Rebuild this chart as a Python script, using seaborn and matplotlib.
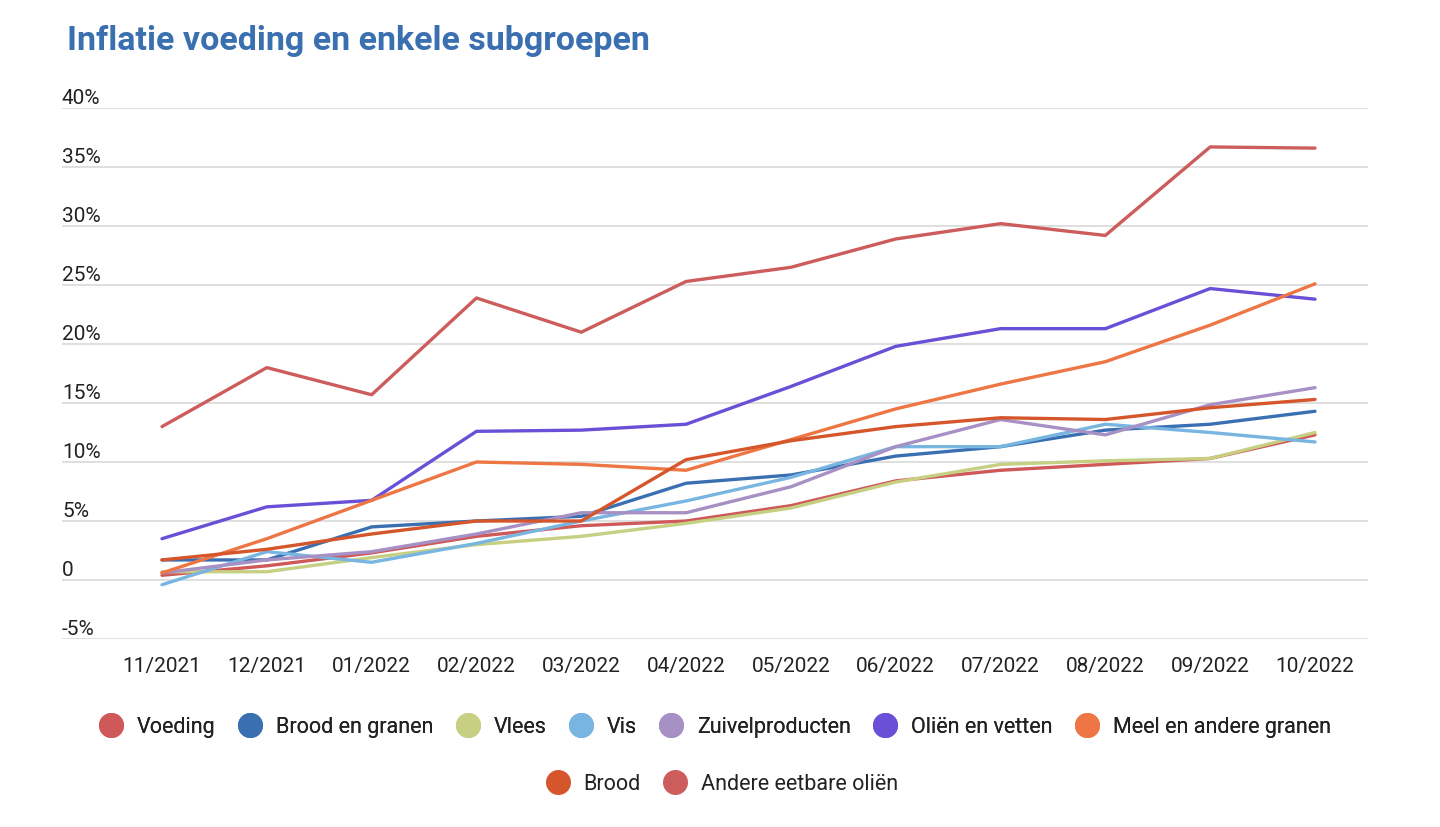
import matplotlib
matplotlib.use("Agg")
import matplotlib.pyplot as plt
from matplotlib.lines import Line2D
import seaborn as sns
import pandas as pd

months = ["11/2021", "12/2021", "01/2022", "02/2022", "03/2022", "04/2022",
          "05/2022", "06/2022", "07/2022", "08/2022", "09/2022", "10/2022"]

voeding = [0.4, 1.2, 2.3, 3.7, 4.6, 5.0, 6.3, 8.4, 9.3, 9.8, 10.3, 12.3]
brood_en_granen = [1.7, 1.7, 4.5, 5.0, 5.4, 8.2, 8.9, 10.5, 11.3, 12.7, 13.2, 14.3]
vlees = [0.7, 0.7, 1.9, 3.0, 3.7, 4.8, 6.1, 8.3, 9.8, 10.1, 10.3, 12.5]
vis = [-0.4, 2.4, 1.5, 3.1, 5.0, 6.7, 8.7, 11.3, 11.3, 13.2, 12.5, 11.7]
zuivelproducten = [0.6, 1.7, 2.4, 3.9, 5.7, 5.7, 7.9, 11.3, 13.6, 12.3, 14.85, 16.3]
olien_en_vetten = [3.5, 6.2, 6.75, 12.6, 12.7, 13.2, 16.4, 19.8, 21.3, 21.3, 24.7, 23.8]
meel_en_andere_granen = [0.6, 3.5, 6.75, 10.0, 9.8, 9.3, 11.9, 14.5, 16.6, 18.5, 21.6, 25.1]
brood = [1.7, 2.6, 3.9, 5.0, 5.0, 10.2, 11.8, 13.0, 13.75, 13.6, 14.6, 15.3]
andere_eetbare_olien = [13.0, 18.0, 15.7, 23.9, 21.0, 25.3, 26.5, 28.9, 30.2, 29.2, 36.7, 36.6]

series_names = ["Voeding", "Brood en granen", "Vlees", "Vis", "Zuivelproducten",
                "Oliën en vetten", "Meel en andere granen", "Brood", "Andere eetbare oliën"]
series_values = [voeding, brood_en_granen, vlees, vis, zuivelproducten,
                 olien_en_vetten, meel_en_andere_granen, brood, andere_eetbare_olien]
colors = ["#cf5858", "#3a6fb2", "#c6cf82", "#78b5e0", "#a690c4",
          "#6a50d6", "#ee7644", "#d6562c", "#cd5c5c"]

y_ticks = [-5, 0, 5, 10, 15, 20, 25, 30, 35, 40]
y_tick_labels = ["-5%", "0", "5%", "10%", "15%", "20%", "25%", "30%", "35%", "40%"]

rows = []
for name, vals in zip(series_names, series_values):
    for i, (m, v) in enumerate(zip(months, vals)):
        rows.append({"idx": i, "month": m, "value": v, "serie": name})
df = pd.DataFrame(rows)

sns.set_theme(style="white")
plt.rcParams["font.family"] = ["Roboto", "DejaVu Sans"]

fig = plt.figure(figsize=(14.4, 8.28), dpi=100)
W, H = 1440, 828
ax = fig.add_axes([62 / W, 1 - 640 / H, (1368 - 62) / W, (640 - 109) / H])

for yt in y_ticks:
    ax.axhline(yt, color="#dcdcdc", lw=1.3, zorder=0)

palette = dict(zip(series_names, colors))
sns.lineplot(data=df, x="idx", y="value", hue="serie", palette=palette,
             hue_order=series_names, lw=2.4, ax=ax, legend=False, zorder=3)

sp = (1315 - 162) / 11
ax.set_xlim((62 - 162) / sp, (1368 - 162) / sp)
ax.set_ylim(-5, 40)

for s in ax.spines.values():
    s.set_visible(False)
ax.set_yticks([])
ax.set_xticks(range(len(months)))
ax.set_xticklabels(months, fontsize=15, color="#222222")
ax.tick_params(axis="x", length=0, pad=12)
ax.set_xlabel("")
ax.set_ylabel("")

for yt, lab in zip(y_ticks, y_tick_labels):
    ax.text(0, yt + 0.45, lab, transform=ax.get_yaxis_transform(),
            ha="left", va="baseline", fontsize=15, color="#222222")

fig.text(67 / W, 1 - 50 / H, "Inflatie voeding en enkele subgroepen",
         fontsize=24.5, fontweight="bold", color="#3a6fb0", ha="left", va="baseline")

def handles(idxs):
    return [Line2D([0], [0], marker="o", color="none", markerfacecolor=colors[i],
                   markeredgecolor=colors[i], markersize=17) for i in idxs]

leg1 = fig.legend(handles(range(7)), series_names[:7], loc="center",
                  bbox_to_anchor=(715 / W, 1 - 728 / H), ncol=7, frameon=False,
                  fontsize=15.5, handletextpad=0.65, columnspacing=1.05,
                  labelcolor="#222222", handlelength=1.1)
leg2 = fig.legend(handles([7, 8]), series_names[7:], loc="center",
                  bbox_to_anchor=(722 / W, 1 - 785 / H), ncol=2, frameon=False,
                  fontsize=15.5, handletextpad=0.65, columnspacing=1.05,
                  labelcolor="#222222", handlelength=1.1)
fig.add_artist(leg1)

fig.savefig("out.png", dpi=100)
